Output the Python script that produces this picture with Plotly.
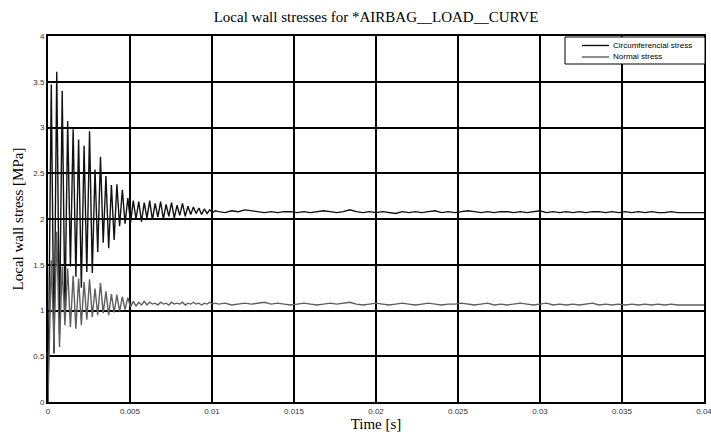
import numpy as np
import plotly.graph_objects as go

# ---- data ----
# start point, then extrema samples (every 1/6000 s from 0.0002 s), then tail samples (every 0.0004 s)
t_start = [0.0]
t_osc = list(0.0002 + np.arange(61) / 6000.0)
t_tail = list(0.0104 + np.arange(75) * 0.0004)
time = t_start + t_osc + t_tail

circ_start = [0.0]
circ_osc = [3.47, 0.53, 3.61, 0.75, 3.40, 1.00, 3.07, 1.48, 2.98, 1.37,
            2.87, 1.25, 2.80, 1.42, 2.96, 1.41, 2.54, 1.64, 2.68, 1.74,
            2.47, 1.68, 2.37, 1.77, 2.38, 1.92, 2.32, 1.95, 2.23, 1.96,
            2.20, 2.00, 2.19, 1.97, 2.18, 2.01, 2.20, 1.99, 2.17, 2.02,
            2.19, 2.00, 2.16, 2.03, 2.18, 2.01, 2.15, 2.04, 2.17, 2.03,
            2.14, 2.05, 2.13, 2.06, 2.12, 2.05, 2.11, 2.06, 2.10, 2.07,
            2.09]
circ_tail = [2.08, 2.07, 2.09, 2.08, 2.10, 2.09, 2.08, 2.07, 2.08, 2.07,
             2.08, 2.08, 2.07, 2.08, 2.07, 2.08, 2.09, 2.08, 2.07, 2.08,
             2.10, 2.08, 2.07, 2.08, 2.07, 2.08, 2.07, 2.06, 2.08, 2.07,
             2.08, 2.07, 2.08, 2.09, 2.07, 2.08, 2.07, 2.08, 2.09, 2.08,
             2.07, 2.08, 2.07, 2.08, 2.08, 2.07, 2.08, 2.07, 2.08, 2.09,
             2.07, 2.08, 2.07, 2.08, 2.07, 2.08, 2.07, 2.08, 2.08, 2.07,
             2.08, 2.07, 2.08, 2.07, 2.08, 2.07, 2.08, 2.07, 2.07, 2.08,
             2.07, 2.07, 2.07, 2.07, 2.07]
circumferential = circ_start + circ_osc + circ_tail

norm_start = [0.0]
norm_osc = [1.55, 0.62, 1.86, 0.60, 1.48, 0.84, 1.46, 0.82, 1.38, 0.80,
            1.35, 0.84, 1.31, 0.90, 1.34, 0.93, 1.24, 0.95, 1.30, 0.97,
            1.21, 0.95, 1.18, 0.98, 1.17, 0.99, 1.15, 1.01, 1.14, 1.04,
            1.10, 1.05, 1.09, 1.06, 1.10, 1.06, 1.09, 1.07, 1.08, 1.06,
            1.09, 1.07, 1.08, 1.06, 1.09, 1.07, 1.08, 1.07, 1.09, 1.06,
            1.08, 1.07, 1.09, 1.07, 1.08, 1.06, 1.08, 1.07, 1.09, 1.07,
            1.08]
norm_tail = [1.07, 1.08, 1.06, 1.07, 1.08, 1.07, 1.08, 1.09, 1.07, 1.08,
             1.07, 1.06, 1.07, 1.08, 1.07, 1.06, 1.07, 1.08, 1.07, 1.08,
             1.09, 1.07, 1.06, 1.07, 1.08, 1.07, 1.06, 1.07, 1.08, 1.07,
             1.06, 1.07, 1.08, 1.07, 1.06, 1.07, 1.07, 1.08, 1.07, 1.06,
             1.07, 1.08, 1.06, 1.07, 1.06, 1.07, 1.08, 1.07, 1.06, 1.07,
             1.08, 1.06, 1.07, 1.06, 1.07, 1.06, 1.07, 1.08, 1.06, 1.07,
             1.06, 1.07, 1.06, 1.07, 1.06, 1.07, 1.06, 1.07, 1.06, 1.07,
             1.06, 1.06, 1.06, 1.06, 1.06]
normal = norm_start + norm_osc + norm_tail

series_names = ["Circumferencial stress", "Normal stress"]
series_colors = ["#111111", "#5e5e5e"]
x_ticks = [0, 0.005, 0.01, 0.015, 0.02, 0.025, 0.03, 0.035, 0.04]
x_ticklabels = ["0", "0.005", "0.01", "0.015", "0.02", "0.025", "0.03", "0.035", "0.04"]

# ---- figure ----
W, H = 711, 432
ML, MR, MT, MB = 48, 7, 36, 30
PW, PH = W - ML - MR, H - MT - MB

fig = go.Figure()
fig.add_trace(go.Scatter(x=time, y=circumferential, mode="lines", name=series_names[0],
                         line=dict(color=series_colors[0], width=1.4), showlegend=False))
fig.add_trace(go.Scatter(x=time, y=normal, mode="lines", name=series_names[1],
                         line=dict(color=series_colors[1], width=1.4), showlegend=False))

serif = "Liberation Serif, Times New Roman, serif"
sans = "Liberation Sans, Arial, sans-serif"

# compact MATLAB-style legend box (pixel positions converted to paper coords)
def px(x):
    return (x - ML) / PW

def py(y):
    return 1 - (y - MT) / PH

shapes = [dict(type="rect", xref="paper", yref="paper",
               x0=px(565), x1=px(705), y0=py(64), y1=py(37),
               line=dict(color="black", width=1), fillcolor="white", layer="above")]
annotations = []
for i, (nm, col) in enumerate(zip(series_names, series_colors)):
    yy = 45.5 + i * 11.5
    shapes.append(dict(type="line", xref="paper", yref="paper",
                       x0=px(582), x1=px(609), y0=py(yy), y1=py(yy),
                       line=dict(color=col, width=1.4), layer="above"))
    annotations.append(dict(text=nm, xref="paper", yref="paper", x=px(611), y=py(yy),
                            xanchor="left", yanchor="middle", showarrow=False,
                            font=dict(family=sans, size=8, color="black")))

fig.update_layout(
    width=W, height=H,
    margin=dict(l=ML, r=MR, t=MT, b=MB, autoexpand=False),
    paper_bgcolor="white", plot_bgcolor="white",
    title=dict(text="Local wall stresses for *AIRBAG__LOAD__CURVE",
               x=0.5, xref="paper", xanchor="center", y=0.962, yref="container", yanchor="middle",
               font=dict(family=serif, size=15, color="black")),
    font=dict(family=sans, size=8, color="#333333"),
    showlegend=False,
    shapes=shapes,
    annotations=annotations,
)
fig.update_xaxes(range=[0, 0.04], tickmode="array", tickvals=x_ticks, ticktext=x_ticklabels,
                 automargin=False, ticklabeloverflow="allow",
                 showgrid=True, gridcolor="black", gridwidth=1.5,
                 showline=True, linecolor="black", linewidth=2, mirror=True,
                 zeroline=False, ticks="",
                 tickfont=dict(family=sans, size=8, color="#333333"),
                 title=dict(text="Time [s]", font=dict(family=serif, size=15, color="black"), standoff=0))
fig.update_yaxes(range=[0, 4], dtick=0.5, tick0=0, automargin=False, ticklabeloverflow="allow",
                 showgrid=True, gridcolor="black", gridwidth=1.5,
                 showline=True, linecolor="black", linewidth=2, mirror=True,
                 zeroline=False, ticks="",
                 tickfont=dict(family=sans, size=8, color="#333333"),
                 title=dict(text="Local wall stress [MPa]", font=dict(family=serif, size=15, color="black"), standoff=6))

fig.write_html("out.html")
